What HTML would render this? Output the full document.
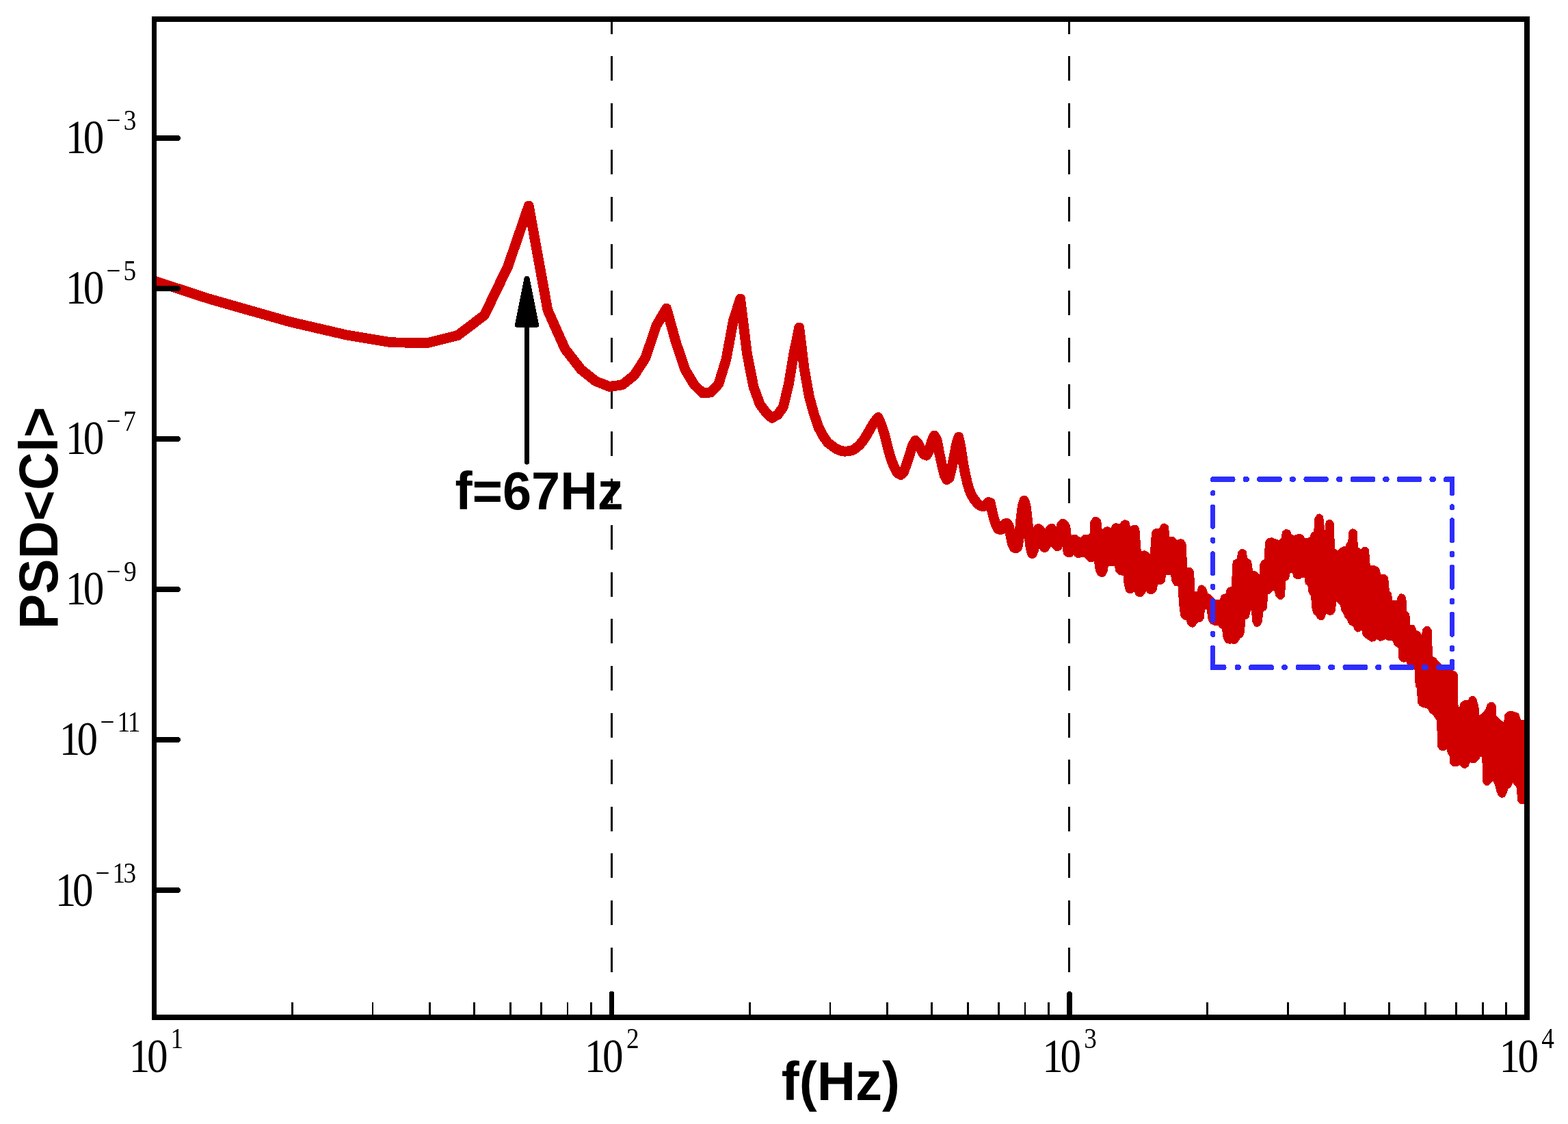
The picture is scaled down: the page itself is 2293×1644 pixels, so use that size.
<!DOCTYPE html>
<html lang="en"><head><meta charset="utf-8"><title>PSD of Cl versus f(Hz)</title>
<style>html,body{margin:0;padding:0;background:#fff}body{width:2293px;height:1644px;overflow:hidden}svg{display:block}.ser{font-family:"Liberation Serif","DejaVu Serif",serif;fill:#000}.san{font-family:"Liberation Sans","DejaVu Sans",sans-serif;font-weight:bold;fill:#000}</style></head><body>
<svg width="2293" height="1644" viewBox="0 0 2293 1644">
<rect width="2293" height="1644" fill="#fff"/>
<defs><clipPath id="plot"><rect x="225.5" y="28" width="2007.5" height="1460"/></clipPath></defs>
<g stroke="#000" stroke-width="3" fill="none" shape-rendering="crispEdges" clip-path="url(#plot)">
<line x1="894.6" y1="13.6" x2="894.6" y2="1486" stroke-dasharray="36 32.6"/>
<line x1="1563.8" y1="13.6" x2="1563.8" y2="1486" stroke-dasharray="36 32.6"/>
</g>
<g clip-path="url(#plot)" shape-rendering="crispEdges">
<polyline points="222,409.7 229,412 305.54,437 423.36,470.6 506.96,490 571.8,500.8 624.78,501.6 669.57,490.4 708.38,461 742.6,390 773.22,301 800.91,453.6 826.2,510.2 849.46,540.2 870.99,557.5 891.04,565.4 909.8,563 927.41,549 944.02,523.3 959.73,476.4 974.64,451 988.82,502 1002.33,541.5 1015.25,562.8 1027.62,575 1039.48,574 1050.88,561.5 1061.84,526 1072.41,469 1082.61,437 1092.46,517.2 1101.99,565.8 1111.21,591.2 1120.16,603.2 1128.83,611.3 1137.26,606.6 1145.44,595.3 1153.4,561.5 1161.15,515.7 1168.7,479.1 1176.06,539 1183.23,579.5 1190.24,605.2 1197.07,625.2 1203.75,637.7 1210.28,647.1 1216.67,652.1 1222.92,656.5 1229.04,659.2 1235.03,660.2 1240.9,659.8 1246.65,658.7 1252.3,655 1257.83,650 1263.26,643 1268.6,634.5 1273.83,625 1278.97,617 1284.03,610.4 1289,621.4 1293.88,636.4 1298.68,656.5 1303.41,672.7 1308.06,684 1312.63,692.1 1317.14,694.6 1321.58,690.3 1325.95,678.4 1330.25,665.2 1334.49,651.4 1338.67,644.2 1342.8,648.9 1346.86,657.7 1350.87,664.6 1354.82,666.2 1358.72,659 1362.57,645.2 1366.37,637 1370.12,643.5 1373.82,663.3 1377.48,680.2 1381.09,695.3 1384.65,701.5 1388.17,699 1391.65,685.3 1395.09,667.7 1398.49,650.2 1401.85,639.2 1405.17,655 1408.46,677 1411.7,694 1414.91,708 1418.09,718 1421.23,725 1424.34,730 1427.41,734 1430.46,737.5 1433.47,739.5 1436.45,740.5 1439.4,740.5 1442.32,737.6 1445.21,734.5 1448.07,735.1 1450.91,747.7 1453.72,758.9 1456.5,767.7 1459.25,773.3 1461.98,774.3 1464.68,774.3 1467.36,770.2 1470.01,765.8 1472.64,765.4 1475.25,768.9 1477.83,782.7 1480.39,795.2 1482.93,800.9 1485.45,801.9 1487.94,800.2 1490.42,785.2 1492.87,760.2 1495.3,740.1 1497.71,732.3 1500.1,740.1 1502.47,760.2 1504.83,782.7 1507.16,801.5 1509.48,809.6 1511.77,804 1514.05,791.5 1516.31,779 1518.56,773.3 1520.79,775.2 1523,781.5 1525.19,795.2 1527.36,800.6 1529.53,797.7 1531.67,787.7 1533.8,779 1535.91,774.6 1538.01,773.3 1540.09,776.5 1542.16,785.2 1544.22,796.5 1546.25,798.7 1548.28,791.5 1550.29,779 1552.29,768.9 1554.27,766.1 1556.24,767.7 1558.2,772.7 1560.14,791.5 1562.07,807.5 1563.99,807.5 1565.9,800.2 1567.79,792.7 1569.67,789.6 1571.54,789.2 1573.4,791.5 1575.24,804 1577.07,808.8" fill="none" stroke="#d00000" stroke-width="14.8" stroke-linejoin="round" stroke-linecap="round"/>
<path d="M1573.2 786.94 L1573.2 808.67 L1576.46 811.93 L1579.84 812.27 L1586.18 811 L1590.93 816.39 L1594.53 819.08 L1602.68 817.45 L1605.09 834.03 L1607.84 839.53 L1611.3 841.03 L1613.96 839.97 L1616.42 835.25 L1618 824.8 L1632.75 824.8 L1634.26 834.73 L1637.68 838.15 L1645.43 838.77 L1646.91 854.46 L1649.08 863.12 L1651.95 865.28 L1654.8 864.56 L1660.02 860.39 L1663.72 868.91 L1666.47 870.28 L1669.36 869.27 L1672.3 865.74 L1675.58 859.19 L1680.59 865.21 L1683.6 866.11 L1686.56 864.93 L1688.69 861.37 L1690.26 851.99 L1698.71 851.38 L1700.73 849.64 L1702.15 838.25 L1714.68 837.35 L1716.8 850.06 L1719.34 853.97 L1725.52 854.59 L1727.44 884.7 L1729.32 900.01 L1731.73 903.22 L1736.95 903.8 L1739.08 910.8 L1742.58 914.3 L1744.65 914.3 L1750.35 906.94 L1755.69 906.45 L1757.41 903.87 L1758.65 892.7 L1762.29 886.63 L1768.04 890.74 L1769.38 904.1 L1772.32 909.98 L1777.91 912.22 L1782.81 911.56 L1785.85 916.13 L1789.93 917.7 L1791.85 932.73 L1794.61 937.72 L1798.66 938.69 L1801.3 937.89 L1804.75 939.05 L1807.74 937.55 L1811.38 931.49 L1814.9 929.14 L1816.84 924.28 L1818.18 904.21 L1823.5 901.55 L1825.86 892.11 L1832.69 885.28 L1834.39 909.11 L1836.71 913.56 L1838.31 914.03 L1841.12 912.35 L1843.08 906.85 L1843.9 893.24 L1849.45 889.46 L1851.48 867.38 L1856.58 864.98 L1860.15 859.62 L1866.47 862.78 L1868.63 870.89 L1871.38 873.8 L1873.5 873.8 L1875.64 871.23 L1877.44 848.04 L1882.06 845.47 L1883.4 836.06 L1892.46 834.24 L1894.15 842.03 L1896.19 843.8 L1900.28 843.8 L1904.33 841.1 L1910.35 842.31 L1911.77 852.24 L1915.54 856.01 L1916.8 866.14 L1920.1 869.94 L1921.9 891.76 L1923.77 896.43 L1926.07 897.58 L1928.74 902.39 L1930.98 904.19 L1933.18 903.97 L1935.03 901.19 L1937.21 892.48 L1943.41 896.3 L1947.25 896.3 L1949.45 893.66 L1952.18 873.16 L1959.16 880.13 L1962.96 883.3 L1964.31 891.37 L1967.92 897.4 L1969.05 900.77 L1972.89 904.61 L1974.14 909.61 L1976.73 912.2 L1981.25 913.71 L1983.23 919.36 L1985.68 921.4 L1987.3 920.86 L1993.35 916.62 L1995.89 928.24 L1999.42 931.18 L2005.75 935.4 L2008.67 934.96 L2013.75 930.9 L2018.33 934.57 L2021.41 933.95 L2026.25 931.37 L2030.8 933.8 L2038.48 933.8 L2041.39 941.66 L2047.59 945.66 L2048.63 962.58 L2050.51 965.03 L2053.39 965.46 L2059.77 963.01 L2060.43 969.66 L2062.72 969.97 L2071.63 978.57 L2072.9 1002.71 L2075.43 1006.49 L2075.93 1026.52 L2078.21 1030.03 L2082.05 1031.95 L2089.27 1033.39 L2093.42 1040.32 L2098.36 1044.02 L2104.17 1052.73 L2105.42 1091.39 L2107.77 1094.53 L2110.55 1094.95 L2117.58 1091.82 L2120.19 1101.15 L2122.89 1105.19 L2123.61 1115.97 L2125.96 1118.05 L2130.03 1118.05 L2135.64 1114.31 L2139.36 1119.9 L2141.9 1120.91 L2144.66 1119.12 L2147.9 1111.01 L2153.78 1112.97 L2156.9 1112.5 L2160.68 1108.35 L2162.88 1101.74 L2170.38 1105.49 L2171.66 1143.63 L2173.58 1145.55 L2175.92 1145.55 L2178.61 1142.86 L2183.38 1136.91 L2188.99 1146.26 L2191.55 1156.51 L2193.64 1161.73 L2196.48 1163.86 L2198.6 1163.01 L2200.99 1157.64 L2202.8 1151.63 L2207.18 1149.05 L2211.39 1138.52 L2221.14 1151.3 L2222.14 1170.09 L2224.06 1172.6 L2225.95 1172.98 L2230.3 1171.96 L2230.3 1057.1 L2221.51 1055.25 L2218.46 1045.58 L2210.66 1043.24 L2206.18 1043.6 L2203.33 1046.44 L2201.97 1061.84 L2191.47 1055 L2185.37 1048.89 L2184.59 1033.46 L2182.69 1030.28 L2180.45 1029.72 L2177.47 1031.96 L2175.12 1039 L2170.79 1044.79 L2160.83 1052.25 L2159.09 1033.11 L2155.83 1022.24 L2153.5 1021.08 L2151.12 1022.27 L2149.62 1026.77 L2142.06 1027.38 L2138.78 1029.51 L2134.41 1045.87 L2129.06 1030.57 L2128.32 986.47 L2125.62 984.08 L2114.47 980.36 L2102.49 971.04 L2097.67 965.02 L2091.86 961.96 L2090.58 922.36 L2088.23 919.22 L2086.12 918.9 L2083.45 921.58 L2080.06 938.52 L2073.97 926.34 L2068.61 924.47 L2067.05 918.85 L2065.79 916.95 L2059.54 916.95 L2058.15 898.93 L2054.38 895.16 L2053.12 874.9 L2050.78 871.79 L2048.81 871.6 L2046.69 874.01 L2045.05 881.2 L2033.41 881.2 L2031.97 869.14 L2028.94 866.61 L2026.94 845.35 L2023.94 842.8 L2015.82 843.44 L2015.14 834.94 L2012.91 832.03 L2009.24 830.2 L2000.78 830.2 L1998.9 805.23 L1996.41 802.87 L1995.05 803.05 L1990.12 807 L1982.6 801.7 L1981.84 778.87 L1979.79 776.82 L1977.56 776.6 L1975.6 778.82 L1974.34 793.93 L1971.55 796.73 L1969.98 801.43 L1963.81 802.97 L1960.79 804.99 L1956.76 809.01 L1948.86 804.37 L1947.58 766.08 L1945.75 763.54 L1943.32 763.3 L1941.78 764.32 L1939.12 790.97 L1936.56 791.02 L1933.07 766.65 L1931.98 756.35 L1929.35 754.64 L1928.16 754.88 L1925.64 758.58 L1924.35 778.62 L1920.16 781.97 L1917.27 789.2 L1907.4 790.38 L1903.06 785.17 L1900 783.95 L1897.26 785.04 L1892.2 786.39 L1886.3 783.64 L1883.92 778.17 L1880.66 777.26 L1878 779.25 L1876.75 788.69 L1870.54 793.66 L1859.64 789.52 L1855.57 790 L1853.15 793.56 L1851.86 819.97 L1847.41 822.34 L1845.66 825.83 L1844.49 850 L1837.72 840.33 L1835.11 838.59 L1829.16 837.89 L1827.02 821.88 L1821.32 818.16 L1819.59 807.54 L1816.49 805.8 L1813.45 808.05 L1811.65 819.1 L1805.97 822.06 L1804.95 830.23 L1804.4 860.63 L1798.75 861.76 L1796.65 863.16 L1795.3 870.46 L1788.73 872.57 L1786.01 880.2 L1776.31 880.2 L1771.49 876.03 L1767.98 872.05 L1763.63 869.73 L1760.58 860.83 L1757.29 858.68 L1755.22 859.72 L1752.96 868.2 L1744.4 868.2 L1743.8 850.2 L1742.42 835.2 L1739.92 832.7 L1733.21 832.7 L1731.34 795.95 L1729.13 792.21 L1726.4 791.39 L1720.48 793.75 L1714.92 788.2 L1707.63 788.2 L1705.74 770.68 L1702.36 768.65 L1699.94 769.86 L1697.1 776.12 L1690.13 776.4 L1687.55 778.98 L1686.19 790.27 L1684.89 816.26 L1677.04 810.22 L1673.38 808.39 L1665.85 810.27 L1663.13 773.76 L1660.88 771.05 L1658.18 770.78 L1650.85 774.86 L1648.51 764.85 L1645.15 763.5 L1642.19 764.98 L1638.97 769.81 L1631.7 768.35 L1629 769.7 L1627.14 777.15 L1619.63 773.39 L1616.76 774.11 L1609.41 782.58 L1606.99 761.77 L1602.94 758.86 L1600.61 759.21 L1597.66 763.55 L1596.88 781.72 L1592.4 784.85 L1585.21 785.57 L1580.63 790.14 L1576.27 787.96 L1573.2 786.94Z" fill="#d00000" stroke="#d00000" stroke-width="6.4" stroke-linejoin="round"/>
</g>
<g fill="#2d2dff" shape-rendering="crispEdges">
<rect x="1770" y="697" width="36.5" height="8" rx="3.5"/>
<rect x="1817.6" y="697" width="9.4" height="8" rx="4"/>
<rect x="1838.2" y="697" width="36.5" height="8" rx="3.5"/>
<rect x="1885.8" y="697" width="9.4" height="8" rx="4"/>
<rect x="1906.4" y="697" width="36.5" height="8" rx="3.5"/>
<rect x="1954" y="697" width="9.4" height="8" rx="4"/>
<rect x="1974.6" y="697" width="36.5" height="8" rx="3.5"/>
<rect x="2022.2" y="697" width="9.4" height="8" rx="4"/>
<rect x="2042.8" y="697" width="36.5" height="8" rx="3.5"/>
<rect x="2090.4" y="697" width="9.4" height="8" rx="4"/>
<rect x="2111" y="697" width="16" height="8" rx="3.5"/>
<rect x="2120" y="697" width="7" height="28.1" rx="3.5"/>
<rect x="2120" y="737" width="7" height="9.4" rx="3.5"/>
<rect x="2120" y="757" width="7" height="37" rx="3.5"/>
<rect x="2120" y="805.9" width="7" height="9.4" rx="3.5"/>
<rect x="2120" y="825.9" width="7" height="37" rx="3.5"/>
<rect x="2120" y="874.8" width="7" height="9.4" rx="3.5"/>
<rect x="2120" y="894.8" width="7" height="37" rx="3.5"/>
<rect x="2120" y="943.7" width="7" height="9.4" rx="3.5"/>
<rect x="2120" y="963.7" width="7" height="16.3" rx="3.5"/>
<rect x="2100.25" y="972" width="26.75" height="8" rx="3.5"/>
<rect x="2031.5" y="972" width="36.5" height="8" rx="3.5"/>
<rect x="1963.5" y="972" width="36.75" height="8" rx="3.5"/>
<rect x="1894.75" y="972" width="36.25" height="8" rx="3.5"/>
<rect x="1826" y="972" width="37" height="8" rx="3.5"/>
<rect x="1770" y="972" width="23.5" height="8" rx="3.5"/>
<rect x="1805.5" y="972" width="9.25" height="8" rx="4"/>
<rect x="1874" y="972" width="9" height="8" rx="4"/>
<rect x="1942.25" y="972" width="10" height="8" rx="4"/>
<rect x="2011" y="972" width="9.5" height="8" rx="4"/>
<rect x="2078.5" y="972" width="10.5" height="8" rx="4"/>
<rect x="1770.1" y="943.75" width="7" height="36.25" rx="3.5"/>
<rect x="1770.1" y="874.5" width="7" height="36.75" rx="3.5"/>
<rect x="1770.1" y="806.25" width="7" height="36.25" rx="3.5"/>
<rect x="1770.1" y="737.5" width="7" height="36.25" rx="3.5"/>
<rect x="1770.1" y="697" width="7" height="8.5" rx="3.5"/>
<rect x="1770.1" y="922.5" width="7" height="9.5" rx="3.5"/>
<rect x="1770.1" y="853.75" width="7" height="9.25" rx="3.5"/>
<rect x="1770.1" y="785.5" width="7" height="9.5" rx="3.5"/>
<rect x="1770.1" y="717" width="7" height="8.5" rx="3.5"/>
<rect x="1770.1" y="972" width="7" height="8"/>
<rect x="2120" y="697" width="7" height="8"/>
<rect x="2120" y="972" width="7" height="8"/>
</g>
<g fill="#000" stroke="#000" shape-rendering="crispEdges">
<line x1="770.5" y1="676.2" x2="770.5" y2="470" stroke-width="6.8" stroke-linecap="round"/>
<polygon points="769.3,406.6 771.7,406.6 785.6,475.9 755.4,475.9" stroke-width="5.2" stroke-linejoin="round"/>
</g>
<g stroke="#000" fill="none" shape-rendering="crispEdges">
<line x1="227" y1="202" x2="260" y2="202" stroke-width="8" stroke-linecap="round"/>
<line x1="227" y1="422" x2="260" y2="422" stroke-width="8" stroke-linecap="round"/>
<line x1="227" y1="642" x2="260" y2="642" stroke-width="8" stroke-linecap="round"/>
<line x1="227" y1="862" x2="260" y2="862" stroke-width="8" stroke-linecap="round"/>
<line x1="227" y1="1082" x2="260" y2="1082" stroke-width="8" stroke-linecap="round"/>
<line x1="227" y1="1302" x2="260" y2="1302" stroke-width="8" stroke-linecap="round"/>
<line x1="894.5" y1="1453.8" x2="894.5" y2="1487" stroke-width="7.6" stroke-linecap="round"/>
<line x1="1564" y1="1453.8" x2="1564" y2="1487" stroke-width="7.6" stroke-linecap="round"/>
</g>
<g stroke="#000" stroke-width="2.8" fill="none" shape-rendering="crispEdges">
<line x1="427.12" y1="1466" x2="427.12" y2="1486"/>
<line x1="544.94" y1="1466" x2="544.94" y2="1486"/>
<line x1="628.54" y1="1466" x2="628.54" y2="1486"/>
<line x1="693.38" y1="1466" x2="693.38" y2="1486"/>
<line x1="746.36" y1="1466" x2="746.36" y2="1486"/>
<line x1="791.16" y1="1466" x2="791.16" y2="1486"/>
<line x1="829.96" y1="1466" x2="829.96" y2="1486"/>
<line x1="864.18" y1="1466" x2="864.18" y2="1486"/>
<line x1="1096.22" y1="1466" x2="1096.22" y2="1486"/>
<line x1="1214.04" y1="1466" x2="1214.04" y2="1486"/>
<line x1="1297.64" y1="1466" x2="1297.64" y2="1486"/>
<line x1="1362.48" y1="1466" x2="1362.48" y2="1486"/>
<line x1="1415.46" y1="1466" x2="1415.46" y2="1486"/>
<line x1="1460.26" y1="1466" x2="1460.26" y2="1486"/>
<line x1="1499.06" y1="1466" x2="1499.06" y2="1486"/>
<line x1="1533.28" y1="1466" x2="1533.28" y2="1486"/>
<line x1="1765.32" y1="1466" x2="1765.32" y2="1486"/>
<line x1="1883.14" y1="1466" x2="1883.14" y2="1486"/>
<line x1="1966.74" y1="1466" x2="1966.74" y2="1486"/>
<line x1="2031.58" y1="1466" x2="2031.58" y2="1486"/>
<line x1="2084.56" y1="1466" x2="2084.56" y2="1486"/>
<line x1="2129.36" y1="1466" x2="2129.36" y2="1486"/>
<line x1="2168.16" y1="1466" x2="2168.16" y2="1486"/>
<line x1="2202.38" y1="1466" x2="2202.38" y2="1486"/>
</g>
<rect x="225.5" y="27.85" width="2007.25" height="1460.15" fill="none" stroke="#000" stroke-width="7.6" shape-rendering="crispEdges"/>
<text class="ser" transform="scale(0.88,1)"><tspan font-size="69.5" x="108.92 138.36" y="224">10</tspan><tspan font-size="42.4" x="176.66 205.35" y="190.4">−3</tspan></text>
<text class="ser" transform="scale(0.88,1)"><tspan font-size="69.5" x="108.92 138.36" y="444">10</tspan><tspan font-size="42.4" x="176.66 205.13" y="410.4">−5</tspan></text>
<text class="ser" transform="scale(0.88,1)"><tspan font-size="69.5" x="108.92 138.36" y="664">10</tspan><tspan font-size="42.4" x="176.66 204.75" y="630.4">−7</tspan></text>
<text class="ser" transform="scale(0.88,1)"><tspan font-size="69.5" x="108.92 138.36" y="884">10</tspan><tspan font-size="42.4" x="176.66 205.73" y="850.4">−9</tspan></text>
<text class="ser" transform="scale(0.88,1)"><tspan font-size="69.5" x="98.47 127.97" y="1104.4">10</tspan><tspan font-size="42.4" x="166.43 194.94 212.1" y="1070.1">−11</tspan></text>
<text class="ser" transform="scale(0.88,1)"><tspan font-size="69.5" x="91.82 120.35" y="1324.6">10</tspan><tspan font-size="42.4" x="158.48 187.05 205.23" y="1290.6">−13</tspan></text>
<text class="ser" transform="scale(0.88,1)"><tspan font-size="69.5" x="214.55 244.27" y="1568">10</tspan><tspan font-size="42.4" x="283.58" y="1533.1">1</tspan></text>
<text class="ser" transform="scale(0.88,1)"><tspan font-size="69.5" x="971.37 1001.2" y="1568">10</tspan><tspan font-size="42.4" x="1040.94" y="1533.1">2</tspan></text>
<text class="ser" transform="scale(0.88,1)"><tspan font-size="69.5" x="1732.16 1762" y="1568">10</tspan><tspan font-size="42.4" x="1801.31" y="1533.1">3</tspan></text>
<text class="ser" transform="scale(0.88,1)"><tspan font-size="69.5" x="2491.6 2522.06" y="1568">10</tspan><tspan font-size="42.4" x="2561.59" y="1533.1">4</tspan></text>
<text class="san" font-size="78" transform="translate(1142.8,1609) scale(1,1.03)">f(Hz)</text>
<text class="san" font-size="77" transform="translate(84,920.2) rotate(-90) scale(1,1.035)">PSD&lt;Cl&gt;</text>
<text class="san" font-size="75.7" transform="translate(665.6,744.9) scale(1,1.035)">f=67Hz</text>
</svg></body></html>
